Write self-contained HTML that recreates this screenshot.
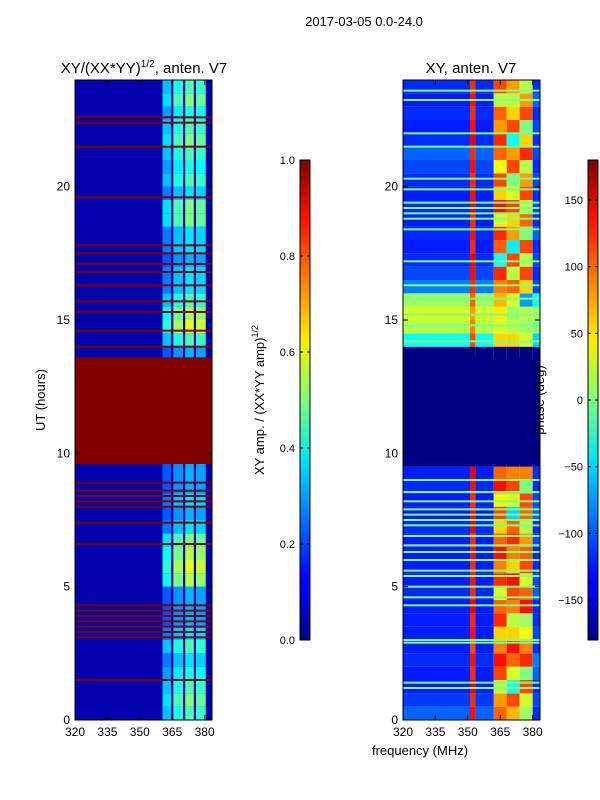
<!DOCTYPE html>
<html><head><meta charset="utf-8"><style>
body{margin:0;background:#fff;}
svg{display:block;font-family:"Liberation Sans",sans-serif;}
</style></head><body>
<svg id="fig" width="600" height="800" xmlns="http://www.w3.org/2000/svg">
<defs>
<linearGradient id="jetV" x1="0" y1="1" x2="0" y2="0">
<stop offset="0" stop-color="#000080"/><stop offset="0.11" stop-color="#0000ff"/><stop offset="0.125" stop-color="#0000ff"/>
<stop offset="0.36" stop-color="#00d4ff"/><stop offset="0.375" stop-color="#00e5f8"/><stop offset="0.5" stop-color="#7dff7a"/>
<stop offset="0.625" stop-color="#faf000"/><stop offset="0.64" stop-color="#ffe000"/><stop offset="0.875" stop-color="#ff1300"/><stop offset="1" stop-color="#800000"/>
</linearGradient>
</defs>
<text x="364" y="26" font-size="13" text-anchor="middle">2017-03-05 0.0-24.0</text>
<text x="144" y="73" font-size="15" text-anchor="middle">XY/(XX*YY)<tspan dy="-6" font-size="10">1/2</tspan><tspan dy="6">, anten. V7</tspan></text>
<text x="471" y="73" font-size="15" text-anchor="middle">XY, anten. V7</text>
<text x="45" y="400" font-size="13" text-anchor="middle" transform="rotate(-90 45 400)">UT (hours)</text>
<text x="420" y="755" font-size="13" text-anchor="middle">frequency (MHz)</text>
<text x="264" y="400" font-size="13" text-anchor="middle" transform="rotate(-90 264 400)">XY amp. / (XX*YY amp)<tspan dy="-6" font-size="9">1/2</tspan></text>
<g id="leftPanel"></g>
<g id="rightPanel"></g>
<g id="cbars"></g>
<text x="544" y="400" font-size="13" text-anchor="middle" transform="rotate(-90 544 400)">phase (deg)</text>
</svg>
<script>
const ampBg = 0.045;
const ampHigh = [0.45,0.5,0.45,0.4,0.35,0.45,0.35,0.3,0.3,0.3,0.55,0.6,0.55,0.5,0.35,0.3,0.35,0.3,0.3,0.3,0.3,0.3,0.3,0.3,0.3,0.3,0.3,0.3,0.45,0.6,0.55,0.45,0.35,0.35,0.3,0.35,0.35,0.5,0.5,0.35,0.45,0.4,0.45,0.5,0.45,0.4,0.5,0.45];
const ampColFactor = [0.7,0.9,1.0,0.95];
const highCols = [[360.5,364.5],[365.5,370],[371,375],[376,380.5]];
const leftFlagLines = [1.5,3.1,3.3,3.5,3.7,3.9,4.1,4.3,6.6,7.4,8.0,8.2,8.4,8.6,8.9,14.0,14.6,15.3,15.7,16.3,16.8,17.1,17.5,17.8,19.6,21.5,22.4,22.6];
const flagBlock = [9.6,13.6];
const phBg = [-100,-115,-125,-125,-120,-125,-125,-125,-125,-120,-125,-125,-125,-125,-120,-125,-125,-120,-125,-180,-180,-180,-180,-180,-180,-180,-180,-180,-40,20,30,10,-90,-110,-120,-125,-120,-125,-120,-125,-120,-110,-100,-120,-125,-120,-125,-120];
const phStreak = [130,120,140,120,130,110,130,120,140,120,130,120,130,120,140,130,120,130,140,-180,-180,-180,-180,-180,-180,-180,-180,-180,110,90,80,100,120,130,140,120,130,120,140,130,120,130,120,140,130,120,130,120];
const phD = [100,80,20,110,130,90,60,120,100,30,120,90,130,100,60,110,40,130,100,-180,-180,-180,-180,-180,-180,-180,-180,-180,60,30,50,70,90,120,-40,100,120,30,130,60,110,40,100,120,80,100,20,110];
const phE = [70,110,-40,30,100,130,60,20,90,110,130,60,90,120,100,-60,30,110,90,-180,-180,-180,-180,-180,-180,-180,-180,-180,60,20,10,30,100,20,110,-50,80,60,110,30,0,110,80,-40,110,60,20,80];
const phF = [10,30,110,0,120,90,40,10,130,100,30,110,100,80,20,100,110,0,90,-180,-180,-180,-180,-180,-180,-180,-180,-180,30,10,20,-80,60,110,20,110,0,100,20,110,80,20,120,60,0,110,80,20];
const phG = [-120,-110,-120,-100,-90,-120,-110,-120,-120,-100,-110,-120,-120,-110,-120,-100,-110,-120,-120,-180,-180,-180,-180,-180,-180,-180,-180,-180,-60,0,10,-40,-110,-120,-110,-120,-100,-120,-110,-120,-110,-120,-110,-120,-110,-120,-100,-120];
const phCols = [[320,351],[351,353.5],[353.5,362],[362,368],[368,374],[374,380],[380,383.4]];
const greenLines = [1.2,1.4,2.9,3.0,4.3,4.6,5.0,5.4,5.6,6.0,6.3,6.55,6.9,7.3,7.5,7.7,7.9,8.2,8.55,9.0,14.2,14.8,15.2,15.8,16.3,17.2,18.4,18.8,19.0,19.2,19.4,19.9,20.3,21.5,22.0,23.25,23.6];
const yTicks = [0,5,10,15,20];
const xTicks = [320,335,350,365,380];
const ampTicks = [0.0,0.2,0.4,0.6,0.8,1.0];
const phTicks = [-150,-100,-50,0,50,100,150];

const NS="http://www.w3.org/2000/svg";
const fMin=320,fMax=383.4,tMax=24,pTop=80,pBot=720,pW=137;
function jet(v){v=Math.max(0,Math.min(1,v));const c=x=>Math.round(255*Math.max(0,Math.min(1,1.5-Math.abs(x))));return `rgb(${c(4*v-3)},${c(4*v-2)},${c(4*v-1)})`;}
function yS(t){return pBot-(t/tMax)*(pBot-pTop);}
function xS(x0,f){return x0+(f-fMin)/(fMax-fMin)*pW;}
function el(tag,attrs,parent){const e=document.createElementNS(NS,tag);for(const k in attrs)e.setAttribute(k,attrs[k]);parent.appendChild(e);return e;}
function rect(p,x,y,w,h,fill,name){const r=el('rect',{x:x,y:y,width:w,height:h,fill:fill},p);


return r;}
function axes(p,x0,name){
  el('rect',{x:x0,y:pTop,width:pW,height:pBot-pTop,fill:'none',stroke:'#000','stroke-width':1},p);
  yTicks.forEach(t=>{const y=yS(t);el('line',{x1:x0,x2:x0+5,y1:y,y2:y,stroke:'#000'},p);el('line',{x1:x0+pW,x2:x0+pW-5,y1:y,y2:y,stroke:'#000'},p);
    const tx=el('text',{x:x0-5,y:y+4,'font-size':12,'text-anchor':'end'},p);tx.textContent=t;
    
    });
  xTicks.forEach(f=>{const x=xS(x0,f);el('line',{x1:x,x2:x,y1:pBot,y2:pBot-5,stroke:'#000'},p);el('line',{x1:x,x2:x,y1:pTop,y2:pTop+5,stroke:'#000'},p);
    const tx=el('text',{x:x,y:pBot+16,'font-size':12,'text-anchor':'middle'},p);tx.textContent=f;
    
    });
}
const L=document.getElementById('leftPanel'),x0L=75;
rect(L,x0L,pTop,pW,pBot-pTop,jet(ampBg),'amp-background');
ampHigh.forEach((a,i)=>{const y1=yS((i+1)*0.5),y0=yS(i*0.5);
  highCols.forEach((c,j)=>{rect(L,xS(x0L,c[0]),y1,xS(x0L,c[1])-xS(x0L,c[0]),y0-y1,jet(a*ampColFactor[j]),'amp-cell');});});
leftFlagLines.forEach(t=>rect(L,x0L,yS(t)-1,pW,2,jet(1),'amp-flag-line'));
rect(L,x0L,yS(flagBlock[1]),pW,yS(flagBlock[0])-yS(flagBlock[1]),jet(1),'amp-flag-block');
axes(L,x0L,'amp');
const R=document.getElementById('rightPanel'),x0R=403;
const phSeries=[phBg,phStreak,phBg,phD,phE,phF,phG];
phBg.forEach((_,i)=>{const y1=yS((i+1)*0.5),y0=yS(i*0.5);
  phCols.forEach((c,j)=>{const v=(phSeries[j][i]+180)/360;rect(R,xS(x0R,c[0]),y1,xS(x0R,c[1])-xS(x0R,c[0]),y0-y1,jet(v),'phase-cell');});});
greenLines.forEach(t=>rect(R,x0R,yS(t)-1,pW,2,jet(0.5),'phase-flag-line'));
rect(R,x0R,yS(flagBlock[1]),pW,yS(flagBlock[0])-yS(flagBlock[1]),jet(0),'phase-flag-block');
axes(R,x0R,'phase');
const C=document.getElementById('cbars');
function cbar(x,ticks,vmin,vmax,fmt,name){
  rect(C,x,160,10,480,'url(#jetV)',name);
  el('rect',{x:x,y:160,width:10,height:480,fill:'none',stroke:'#000'},C);
  ticks.forEach(t=>{const y=640-(t-vmin)/(vmax-vmin)*480;el('line',{x1:x,x2:x+3,y1:y,y2:y,stroke:'#000'},C);el('line',{x1:x+10,x2:x+7,y1:y,y2:y,stroke:'#000'},C);
    const tx=el('text',{x:x-5,y:y+4,'font-size':11,'text-anchor':'end'},C);tx.textContent=fmt(t);
    
    });
}
cbar(300,ampTicks,0,1,t=>t.toFixed(1),'amp-colorbar');
cbar(588,phTicks,-180,180,t=>t<0?'\u2212'+(-t):String(t),'phase-colorbar');
</script>
</body></html>
